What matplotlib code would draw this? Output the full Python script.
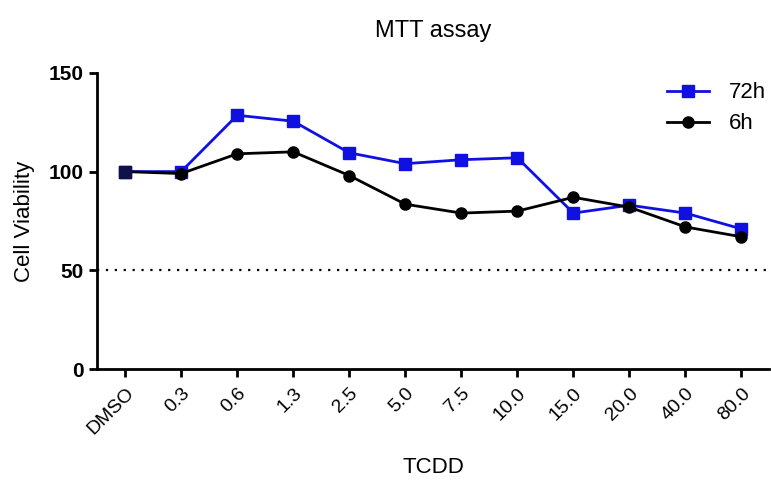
import matplotlib
matplotlib.use('Agg')
import matplotlib.pyplot as plt

plt.rcParams['font.family'] = ['Liberation Sans', 'DejaVu Sans']

doses = ['DMSO', '0.3', '0.6', '1.3', '2.5', '5.0', '7.5', '10.0', '15.0', '20.0', '40.0', '80.0']
viab_72h = [100, 100, 128.5, 125.5, 109.5, 104, 106, 107, 79, 83, 79, 71]
viab_6h = [100, 99, 109, 110, 98, 83.5, 79, 80, 87, 82, 72, 67]
threshold = 50

fig = plt.figure(figsize=(7.71, 4.82), dpi=100)
ax = fig.add_axes([0.126, 0.234, 0.872, 0.615])

x = list(range(len(doses)))
ax.plot(x, viab_72h, color='#1010e0', marker='s', markersize=8, linewidth=2, label='72h', zorder=3)
ax.plot(x, viab_6h, color='black', marker='o', markersize=8, linewidth=2, label='6h', zorder=4)
ax.plot(x[:1], viab_72h[:1], color='#10104a', marker='s', markersize=8, linestyle='none', zorder=5)
ax.axhline(threshold, color='black', linestyle=(0, (1, 3)), linewidth=1.6, zorder=1)

ax.set_xlim(-0.5, 11.5)
ax.set_ylim(0, 150)
ax.set_yticks([0, 50, 100, 150])
ax.set_xticks(x)
ax.set_xticklabels(doses, rotation=45, ha='right', rotation_mode='anchor', fontsize=14)
for lbl in ax.get_yticklabels():
    lbl.set_fontweight('bold')
    lbl.set_fontsize(15)

ax.spines['top'].set_visible(False)
ax.spines['right'].set_visible(False)
ax.spines['left'].set_linewidth(2)
ax.spines['bottom'].set_linewidth(2)
ax.tick_params(width=2, length=6)
ax.tick_params(axis='x', pad=5)

ax.set_title('MTT assay', fontsize=17, pad=26)
ax.set_xlabel('TCDD', fontsize=16, labelpad=14)
ax.set_ylabel('Cell Viability', fontsize=16, labelpad=10)

ax.legend(loc='upper right', bbox_to_anchor=(1.025, 1.035), frameon=False, fontsize=16,
          handlelength=1.9, handletextpad=0.9, labelspacing=0.45)

fig.savefig('out.png')
